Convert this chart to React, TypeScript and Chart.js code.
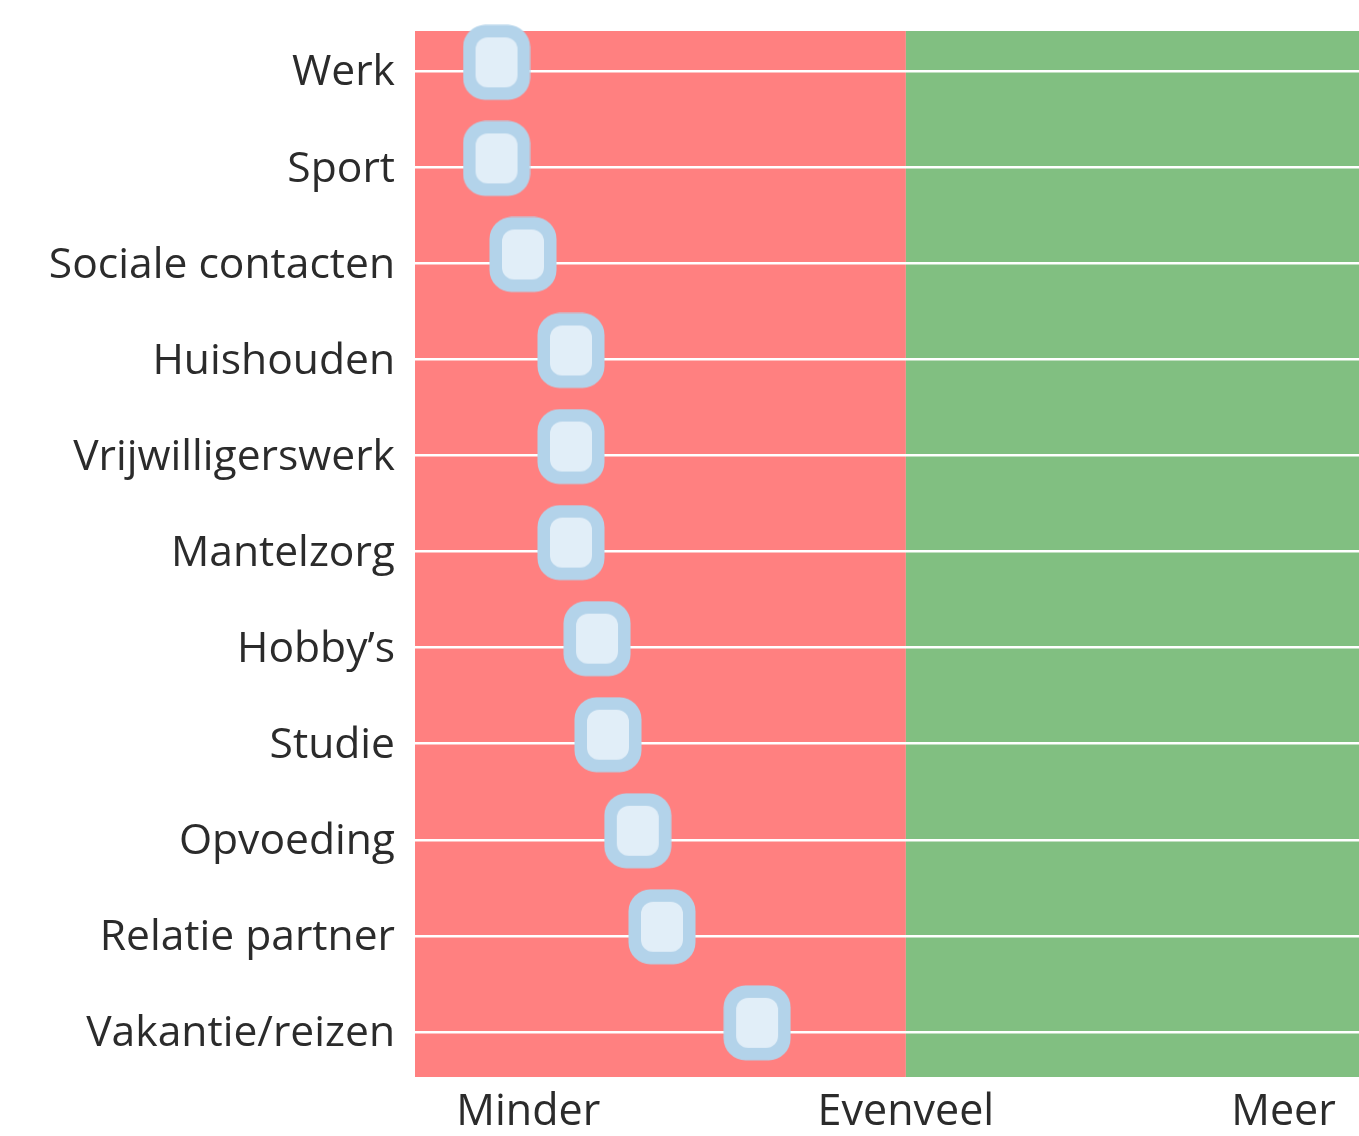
import React, { useEffect, useRef } from "react";
import { Chart, registerables } from "chart.js";

Chart.register(...registerables);

const categories = [
  "Werk",
  "Sport",
  "Sociale contacten",
  "Huishouden",
  "Vrijwilligerswerk",
  "Mantelzorg",
  "Hobby\u2019s",
  "Studie",
  "Opvoeding",
  "Relatie partner",
  "Vakantie/reizen",
];
const scores = [0.916, 0.916, 0.986, 1.113, 1.113, 1.113, 1.182, 1.211, 1.29, 1.354, 1.606];
const xTickLabels: Record<number, string> = { 1: "Minder", 2: "Evenveel", 3: "Meer" };
const neutralValue = 2;

function makeMarker(): HTMLCanvasElement {
  const w = 68;
  const shapeH = 76;
  const h = shapeH + 18;
  const c = document.createElement("canvas");
  c.width = w;
  c.height = h;
  const ctx = c.getContext("2d")!;
  ctx.fillStyle = "#b3d3ea";
  ctx.beginPath();
  (ctx as any).roundRect(0.5, 0.5, 67, 75, 22);
  ctx.fill();
  ctx.fillStyle = "#e1eef8";
  ctx.beginPath();
  (ctx as any).roundRect(13, 13, 42, 50, 12);
  ctx.fill();
  return c;
}

const bgPlugin = {
  id: "bgZones",
  beforeDraw(chart: any) {
    const { ctx, chartArea, scales } = chart;
    const mid = scales.x.getPixelForValue(neutralValue);
    ctx.save();
    ctx.fillStyle = "#ff8080";
    ctx.fillRect(chartArea.left, chartArea.top, mid - chartArea.left, chartArea.bottom - chartArea.top);
    ctx.fillStyle = "#81bf81";
    ctx.fillRect(mid, chartArea.top, chartArea.right - mid, chartArea.bottom - chartArea.top);
    ctx.restore();
  },
};

export default function App() {
  const ref = useRef<HTMLCanvasElement>(null);
  useEffect(() => {
    const marker = makeMarker();
    const chart = new Chart(ref.current!, {
      type: "scatter",
      data: {
        datasets: [
          {
            data: scores.map((v, i) => ({ x: v, y: i })),
            pointStyle: marker as any,
            pointRadius: 30,
            pointHoverRadius: 30,
            clip: false as any,
          },
        ],
      },
      options: {
        animation: false,
        responsive: false,
        maintainAspectRatio: false,
        layout: { autoPadding: false, padding: { top: 31, right: 0, left: 0, bottom: 0 } },
        plugins: { legend: { display: false }, tooltip: { enabled: false } },
        scales: {
          x: {
            type: "linear",
            min: 0.7,
            max: 3.2,
            afterBuildTicks: (s: any) => {
              s.ticks = [{ value: 1 }, { value: 2 }, { value: 3 }];
            },
            afterFit: (s: any) => {
              s.height = 59;
              s.paddingLeft = 0;
              s.paddingRight = 0;
            },
            grid: { display: false, drawTicks: false },
            border: { display: false },
            ticks: {
              autoSkip: false,
              maxRotation: 0,
              padding: 10,
              color: "#2b2b2b",
              font: { family: "'Open Sans'", size: 43 },
              callback: (v: any) => xTickLabels[v as number] ?? "",
            },
          },
          y: {
            type: "linear",
            reverse: true,
            min: -0.42,
            max: 10.47,
            afterBuildTicks: (s: any) => {
              s.ticks = categories.map((_, i) => ({ value: i }));
            },
            afterFit: (s: any) => {
              s.width = 415;
              s.paddingTop = 0;
              s.paddingBottom = 0;
            },
            grid: { color: "#ffffff", lineWidth: 2.5, drawTicks: false, z: 0 },
            border: { display: false },
            ticks: {
              autoSkip: false,
              padding: 20,
              labelOffset: 2,
              color: "#2b2b2b",
              font: { family: "'Open Sans'", size: 42.6 },
              callback: (v: any) => categories[v as number] ?? "",
            },
          },
        },
      },
      plugins: [bgPlugin],
    });
    return () => chart.destroy();
  }, []);
  return (
    <div style={{ position: "absolute", left: 0, top: 0, width: 1359, height: 1136 }}>
      <canvas ref={ref} width={1359} height={1136} style={{ width: 1359, height: 1136 }} />
    </div>
  );
}
